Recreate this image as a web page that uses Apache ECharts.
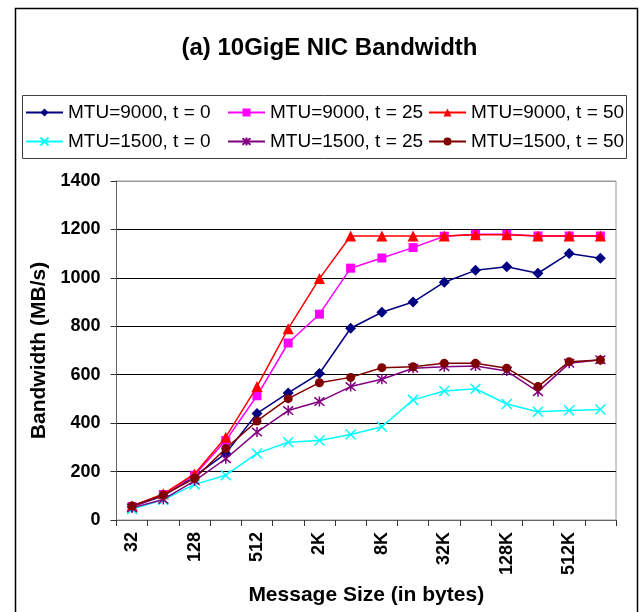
<!DOCTYPE html>
<html>
<head>
<meta charset="utf-8">
<script src="https://cdn.jsdelivr.net/npm/echarts@6/dist/echarts.min.js"></script>
<style>
html,body{margin:0;padding:0;background:#fff;}
#chart{width:639px;height:612px;}
</style>
</head>
<body>
<div id="chart"></div>
<script>
const categories = ['32','64','128','256','512','1K','2K','4K','8K','16K','32K','64K','128K','256K','512K','1M'];
const seriesNames = ['MTU=9000, t = 0','MTU=9000, t = 25','MTU=9000, t = 50','MTU=1500, t = 0','MTU=1500, t = 25','MTU=1500, t = 50'];
const mtu9000_t0  = [55, 100, 180, 275, 440, 525, 605, 792, 858, 900, 982, 1031, 1046, 1019, 1101, 1081];
const mtu9000_t25 = [55, 105, 185, 328, 513, 731, 850, 1040, 1082, 1125, 1172, 1180, 1180, 1173, 1173, 1173];
const mtu9000_t50 = [58, 108, 190, 342, 551, 790, 997, 1173, 1173, 1173, 1173, 1178, 1178, 1173, 1173, 1173];
const mtu1500_t0  = [45, 83, 147, 185, 275, 321, 328, 353, 385, 496, 533, 542, 479, 447, 452, 456];
const mtu1500_t25 = [50, 85, 162, 253, 363, 452, 489, 551, 581, 627, 633, 636, 615, 530, 647, 662];
const mtu1500_t50 = [58, 103, 172, 295, 409, 501, 567, 589, 629, 633, 647, 647, 627, 551, 654, 661];
const yTicks = [0, 200, 400, 600, 800, 1000, 1200, 1400];

const FONT = '"Liberation Sans", Arial, sans-serif';
const X_PATH = 'path://M0,0L10,10M10,0L0,10';
const STAR_PATH = 'path://M0,0L10,10M10,0L0,10M5,-1L5,11';

const styles = [
  {color:'#000080', symbol:'diamond', size:11},
  {color:'#FF00FF', symbol:'rect', size:9},
  {color:'#FF0000', symbol:'triangle', size:11},
  {color:'#00FFFF', symbol:X_PATH, size:10, stroke:true},
  {color:'#800080', symbol:STAR_PATH, size:10, stroke:true},
  {color:'#800000', symbol:'circle', size:9}
];
const dataSets = [mtu9000_t0, mtu9000_t25, mtu9000_t50, mtu1500_t0, mtu1500_t25, mtu1500_t50];

const series = dataSets.map((d, i) => {
  const s = styles[i];
  return {
    name: seriesNames[i],
    type: 'line',
    data: d,
    symbol: s.symbol,
    symbolSize: s.size,
    showAllSymbol: true,
    animation: false,
    lineStyle: {color: s.color, width: 1.5},
    itemStyle: s.stroke ? {color: s.color, borderColor: s.color, borderWidth: 1.5} : {color: s.color, borderWidth: 0},
    z: 2 + i
  };
});

const legendCommon = {
  orient: 'vertical',
  top: 103,
  padding: 0,
  itemWidth: 37,
  itemHeight: 10,
  itemGap: 10,
  textStyle: {fontFamily: FONT, fontSize: 19, color: '#000'},
  selectedMode: false
};

const chart = echarts.init(document.getElementById('chart'));
chart.setOption({
  backgroundColor: '#fff',
  animation: false,
  title: {
    text: '(a) 10GigE NIC Bandwidth',
    left: 324.5, top: 31, textAlign: 'center',
    textStyle: {fontFamily: FONT, fontSize: 24, fontWeight: 'bold', color: '#000'}
  },
  legend: [
    Object.assign({left: 25, data: [seriesNames[0], seriesNames[3]]}, legendCommon),
    Object.assign({left: 227, data: [seriesNames[1], seriesNames[4]]}, legendCommon),
    Object.assign({left: 428, data: [seriesNames[2], seriesNames[5]]}, legendCommon)
  ],
  grid: {left: 116.5, right: 23, top: 181, bottom: 92, show: true, borderColor: '#999', borderWidth: 1, backgroundColor: '#fff'},
  xAxis: {
    type: 'category',
    data: categories,
    boundaryGap: true,
    name: 'Message Size (in bytes)',
    nameLocation: 'middle',
    nameGap: 65,
    nameTextStyle: {fontFamily: FONT, fontSize: 21, fontWeight: 'bold', color: '#000'},
    axisLine: {lineStyle: {color: '#666', width: 1}},
    axisTick: {show: true, interval: 0, length: 6, lineStyle: {color: '#333'}},
    axisLabel: {interval: 1, rotate: 90, margin: 12, fontFamily: FONT, fontSize: 18, fontWeight: 'bold', color: '#000'},
    splitLine: {show: false}
  },
  yAxis: {
    type: 'value',
    min: 0, max: 1400, interval: 200,
    name: 'Bandwidth (MB/s)',
    nameLocation: 'middle',
    nameGap: 59,
    nameTextStyle: {fontFamily: FONT, fontSize: 21, fontWeight: 'bold', color: '#000'},
    axisLine: {show: true, lineStyle: {color: '#666', width: 1}},
    axisTick: {show: true, length: 6, lineStyle: {color: '#333'}},
    axisLabel: {margin: 16, fontFamily: FONT, fontSize: 18, fontWeight: 'bold', color: '#000',
      formatter: v => yTicks.indexOf(v) >= 0 ? String(v) : ''},
    splitLine: {show: true, lineStyle: {color: ['#000','#000','#000','#000','#000','#000','#000','#999'], width: 1}}
  },
  graphic: [
    {type: 'rect', left: 13, top: 6, shape: {width: 622, height: 640}, style: {fill: 'none', stroke: '#000', lineWidth: 1.5}, silent: true, z: 100},
    {type: 'rect', left: 20, top: 93, shape: {width: 604, height: 63}, style: {fill: 'none', stroke: '#404040', lineWidth: 1}, silent: true, z: 100}
  ],
  series: series
});
</script>
</body>
</html>
